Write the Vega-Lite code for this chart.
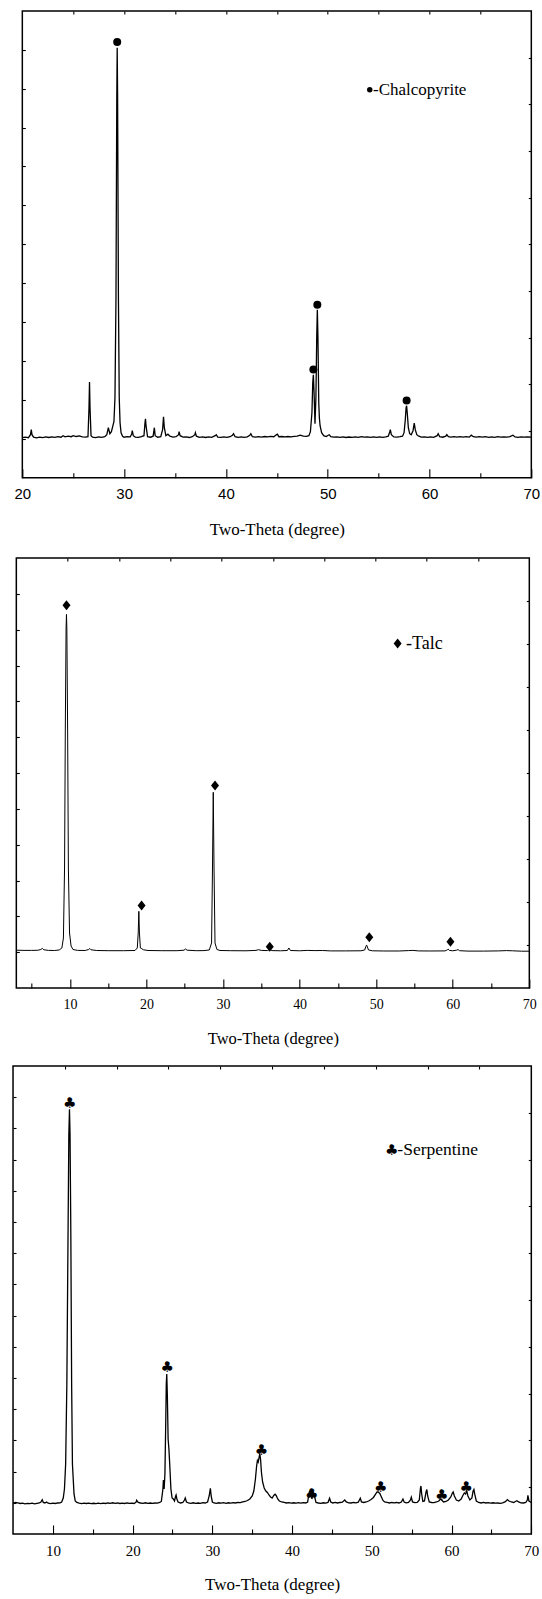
{
  "$schema": "https://vega.github.io/schema/vega-lite/v6.json",
  "background": "white",
  "padding": {"left": 7.7, "top": 8, "right": 0, "bottom": 0},
  "spacing": 14,
  "center": true,
  "align": "each",
  "config": {
    "view": {"stroke": "black", "strokeWidth": 1.5},
    "axis": {"domain": false, "grid": false, "tickColor": "black", "tickWidth": 1.1, "labelColor": "black", "titleColor": "black", "labelFlush": false, "labelOverlap": false, "labelBound": false, "titleFontWeight": "normal"}
  },
  "datasets": {
    "p1_line": [
      {"t":20.0,"i":40},{"t":20.3,"i":40.5},{"t":20.6,"i":40},{"t":20.8,"i":43},{"t":20.88,"i":48},{"t":20.95,"i":43},{"t":21.1,"i":40.5},{"t":21.4,"i":39.8},{"t":21.7,"i":40.6},{"t":22.0,"i":40},{"t":22.3,"i":40.8},{"t":22.6,"i":40.2},{"t":22.9,"i":40.9},{"t":23.2,"i":40.3},{"t":23.5,"i":41},{"t":23.8,"i":40.5},{"t":24.0,"i":42},{"t":24.2,"i":40.8},{"t":24.5,"i":41.5},{"t":24.8,"i":41},{"t":25.0,"i":42},{"t":25.3,"i":41.2},{"t":25.6,"i":41.8},{"t":25.9,"i":40.8},{"t":26.2,"i":40.5},{"t":26.45,"i":41},{"t":26.55,"i":70},{"t":26.6,"i":95.6},{"t":26.65,"i":70},{"t":26.75,"i":42},{"t":26.9,"i":40.5},{"t":27.2,"i":40},{"t":27.5,"i":40.8},{"t":27.8,"i":40.3},{"t":28.1,"i":41},{"t":28.3,"i":43},{"t":28.45,"i":50},{"t":28.6,"i":44},{"t":28.75,"i":46},{"t":28.9,"i":52},{"t":29.0,"i":56},{"t":29.1,"i":80},{"t":29.2,"i":180},{"t":29.28,"i":380},{"t":29.32,"i":430},{"t":29.36,"i":380},{"t":29.44,"i":180},{"t":29.52,"i":80},{"t":29.6,"i":55},{"t":29.7,"i":45},{"t":29.85,"i":41.5},{"t":30.0,"i":40.5},{"t":30.3,"i":41},{"t":30.6,"i":40.8},{"t":30.75,"i":44},{"t":30.8,"i":47},{"t":30.9,"i":42},{"t":31.1,"i":40.6},{"t":31.4,"i":40.3},{"t":31.7,"i":41},{"t":31.95,"i":42},{"t":32.05,"i":55},{"t":32.1,"i":59},{"t":32.15,"i":52},{"t":32.3,"i":41},{"t":32.6,"i":40.5},{"t":32.85,"i":41.5},{"t":32.97,"i":50},{"t":33.05,"i":42},{"t":33.3,"i":40.5},{"t":33.6,"i":41},{"t":33.78,"i":48},{"t":33.87,"i":61},{"t":33.95,"i":50},{"t":34.1,"i":42},{"t":34.3,"i":43.5},{"t":34.5,"i":41.5},{"t":34.8,"i":40.6},{"t":35.1,"i":41},{"t":35.35,"i":43},{"t":35.4,"i":46},{"t":35.5,"i":42},{"t":35.8,"i":40.5},{"t":36.1,"i":40.8},{"t":36.4,"i":40.2},{"t":36.7,"i":41},{"t":36.95,"i":43},{"t":37.0,"i":45},{"t":37.1,"i":41.5},{"t":37.4,"i":40.4},{"t":37.7,"i":40.8},{"t":38.0,"i":40.2},{"t":38.3,"i":40.9},{"t":38.6,"i":40.4},{"t":38.95,"i":42},{"t":39.05,"i":43},{"t":39.2,"i":40.6},{"t":39.5,"i":40.3},{"t":39.8,"i":40.8},{"t":40.1,"i":40.3},{"t":40.4,"i":41},{"t":40.65,"i":42.5},{"t":40.75,"i":44},{"t":40.9,"i":41},{"t":41.2,"i":40.4},{"t":41.5,"i":40.8},{"t":41.8,"i":40.3},{"t":42.1,"i":40.9},{"t":42.35,"i":42.5},{"t":42.45,"i":44},{"t":42.6,"i":41},{"t":42.9,"i":40.5},{"t":43.2,"i":41},{"t":43.5,"i":40.6},{"t":43.8,"i":41.2},{"t":44.1,"i":40.8},{"t":44.4,"i":41.3},{"t":44.7,"i":41},{"t":44.95,"i":43},{"t":45.05,"i":43.5},{"t":45.2,"i":41},{"t":45.5,"i":41.2},{"t":45.8,"i":40.8},{"t":46.1,"i":41.2},{"t":46.4,"i":40.9},{"t":46.7,"i":41.3},{"t":47.0,"i":41.5},{"t":47.3,"i":42.5},{"t":47.6,"i":41.5},{"t":47.9,"i":41.3},{"t":48.15,"i":42},{"t":48.3,"i":46},{"t":48.45,"i":65},{"t":48.53,"i":95},{"t":48.59,"i":103},{"t":48.66,"i":85},{"t":48.75,"i":54},{"t":48.84,"i":80},{"t":48.92,"i":140},{"t":48.98,"i":168},{"t":49.04,"i":140},{"t":49.12,"i":75},{"t":49.18,"i":60},{"t":49.25,"i":52},{"t":49.4,"i":45},{"t":49.6,"i":42},{"t":49.85,"i":41.2},{"t":50.05,"i":42.5},{"t":50.15,"i":43},{"t":50.3,"i":41},{"t":50.6,"i":40.5},{"t":50.9,"i":40.9},{"t":51.2,"i":40.3},{"t":51.5,"i":40.8},{"t":51.8,"i":40.2},{"t":52.1,"i":40.7},{"t":52.4,"i":40.3},{"t":52.7,"i":40.8},{"t":53.0,"i":40.4},{"t":53.3,"i":41},{"t":53.6,"i":40.5},{"t":53.9,"i":40.9},{"t":54.2,"i":40.4},{"t":54.5,"i":40.8},{"t":54.8,"i":40.3},{"t":55.1,"i":40.8},{"t":55.4,"i":40.4},{"t":55.7,"i":40.9},{"t":55.95,"i":41.5},{"t":56.1,"i":46},{"t":56.15,"i":48},{"t":56.25,"i":43},{"t":56.5,"i":40.8},{"t":56.8,"i":40.5},{"t":57.1,"i":41},{"t":57.35,"i":41.5},{"t":57.5,"i":45},{"t":57.62,"i":58},{"t":57.7,"i":70},{"t":57.75,"i":72},{"t":57.82,"i":64},{"t":57.92,"i":50},{"t":58.05,"i":44},{"t":58.2,"i":43},{"t":58.38,"i":47},{"t":58.5,"i":54.6},{"t":58.6,"i":48},{"t":58.75,"i":43},{"t":58.95,"i":41.5},{"t":59.2,"i":40.6},{"t":59.5,"i":40.9},{"t":59.8,"i":40.3},{"t":60.1,"i":40.8},{"t":60.4,"i":40.4},{"t":60.75,"i":42},{"t":60.85,"i":44},{"t":61.0,"i":41},{"t":61.3,"i":40.5},{"t":61.6,"i":41.5},{"t":61.7,"i":43},{"t":61.85,"i":41},{"t":62.1,"i":40.6},{"t":62.4,"i":41},{"t":62.7,"i":40.5},{"t":63.0,"i":41},{"t":63.3,"i":40.5},{"t":63.6,"i":41.1},{"t":63.9,"i":40.6},{"t":64.1,"i":42.5},{"t":64.3,"i":41},{"t":64.6,"i":40.6},{"t":64.9,"i":41.1},{"t":65.2,"i":40.5},{"t":65.5,"i":41},{"t":65.8,"i":40.4},{"t":66.1,"i":40.9},{"t":66.4,"i":40.4},{"t":66.7,"i":41},{"t":67.0,"i":40.5},{"t":67.3,"i":40.9},{"t":67.6,"i":40.5},{"t":67.9,"i":41},{"t":68.2,"i":42.5},{"t":68.4,"i":40.8},{"t":68.7,"i":40.4},{"t":69.0,"i":40.9},{"t":69.3,"i":40.5},{"t":69.6,"i":40.9},{"t":70.0,"i":40.5}
    ],
    "p1_marks": [
      {"t":29.32,"i":435.7},{"t":48.59,"i":108.3},{"t":48.98,"i":173},{"t":57.75,"i":77.3}
    ],
    "p1_bullet": [
      {"t":54.13,"i":388}
    ],
    "p1_legend": [
      {"t":54.45,"i":388,"label":"-Chalcopyrite"}
    ],
    "p2_line": [
      {"t":3.0,"i":37.8},{"t":4.0,"i":37.6},{"t":5.0,"i":37.6},{"t":5.8,"i":37.7},{"t":6.2,"i":38.5},{"t":6.4,"i":39.6},{"t":6.6,"i":38.2},{"t":7.2,"i":37.6},{"t":8.0,"i":37.5},{"t":8.6,"i":38},{"t":8.95,"i":40},{"t":9.15,"i":50},{"t":9.3,"i":120},{"t":9.4,"i":260},{"t":9.5,"i":360},{"t":9.55,"i":373.6},{"t":9.6,"i":360},{"t":9.7,"i":260},{"t":9.8,"i":120},{"t":9.95,"i":55},{"t":10.15,"i":42},{"t":10.4,"i":38.5},{"t":11.0,"i":37.6},{"t":12.0,"i":37.5},{"t":12.45,"i":38.5},{"t":12.6,"i":39.5},{"t":12.75,"i":38.2},{"t":13.5,"i":37.5},{"t":15.0,"i":37.3},{"t":17.0,"i":37.3},{"t":18.5,"i":37.5},{"t":18.8,"i":40},{"t":18.92,"i":55},{"t":19.0,"i":76.7},{"t":19.08,"i":55},{"t":19.2,"i":40},{"t":19.4,"i":39.2},{"t":19.6,"i":38.2},{"t":20.2,"i":37.5},{"t":22.0,"i":37.3},{"t":24.0,"i":37.3},{"t":24.9,"i":37.8},{"t":25.1,"i":39},{"t":25.3,"i":37.8},{"t":26.5,"i":37.3},{"t":27.5,"i":37.4},{"t":28.2,"i":38},{"t":28.5,"i":45},{"t":28.62,"i":120},{"t":28.72,"i":195.7},{"t":28.82,"i":120},{"t":28.95,"i":45},{"t":29.2,"i":38.5},{"t":29.6,"i":37.5},{"t":31.0,"i":37.3},{"t":33.0,"i":37.2},{"t":34.3,"i":37.6},{"t":34.6,"i":38.3},{"t":35.0,"i":37.6},{"t":35.8,"i":37.4},{"t":36.1,"i":38.5},{"t":36.4,"i":37.4},{"t":37.5,"i":37.2},{"t":38.4,"i":37.5},{"t":38.6,"i":40},{"t":38.8,"i":37.5},{"t":40.0,"i":37.2},{"t":41.0,"i":37.6},{"t":42.0,"i":37.4},{"t":43.0,"i":37.5},{"t":44.0,"i":37.1},{"t":46.0,"i":37.1},{"t":48.0,"i":37.2},{"t":48.5,"i":38},{"t":48.65,"i":41.5},{"t":48.75,"i":42.9},{"t":48.85,"i":41},{"t":49.0,"i":38},{"t":49.5,"i":37.2},{"t":51.0,"i":37.0},{"t":53.0,"i":37.0},{"t":54.2,"i":37.4},{"t":54.8,"i":37.6},{"t":55.5,"i":37.1},{"t":57.0,"i":37.0},{"t":59.0,"i":37.1},{"t":59.3,"i":38.2},{"t":59.4,"i":38.9},{"t":59.55,"i":37.6},{"t":60.0,"i":37.2},{"t":60.5,"i":37.8},{"t":60.7,"i":38.4},{"t":60.9,"i":37.3},{"t":62.0,"i":36.9},{"t":64.0,"i":36.9},{"t":66.0,"i":37.1},{"t":67.0,"i":37.4},{"t":67.8,"i":37.2},{"t":69.0,"i":36.8},{"t":70.0,"i":36.8}
    ],
    "p2_marks": [
      {"t":9.55,"i":382.7},{"t":19.36,"i":82.5},{"t":28.95,"i":202.5},{"t":36.1,"i":41.2},{"t":49.1,"i":50.7},{"t":59.7,"i":46.3},{"t":52.8,"i":344.4}
    ],
    "p2_legend": [
      {"t":53.9,"i":344.4,"label":"-Talc"}
    ],
    "p3_line": [
      {"t":5.0,"i":30.8},{"t":5.3,"i":31.5},{"t":5.6,"i":31},{"t":5.9,"i":30.5},{"t":6.2,"i":30.8},{"t":6.5,"i":30.2},{"t":6.8,"i":30.6},{"t":7.1,"i":30.3},{"t":7.4,"i":30.8},{"t":7.7,"i":30.2},{"t":8.0,"i":30.6},{"t":8.3,"i":31},{"t":8.5,"i":32},{"t":8.66,"i":34.3},{"t":8.8,"i":31.5},{"t":9.0,"i":31},{"t":9.2,"i":32},{"t":9.4,"i":30.8},{"t":9.7,"i":30.4},{"t":10.0,"i":30.8},{"t":10.3,"i":30.5},{"t":10.6,"i":31},{"t":10.9,"i":31.2},{"t":11.1,"i":32},{"t":11.3,"i":36},{"t":11.45,"i":45},{"t":11.6,"i":70},{"t":11.75,"i":150},{"t":11.9,"i":300},{"t":12.0,"i":400},{"t":12.08,"i":424.8},{"t":12.15,"i":400},{"t":12.25,"i":300},{"t":12.35,"i":150},{"t":12.45,"i":70},{"t":12.55,"i":55},{"t":12.65,"i":40},{"t":12.8,"i":33},{"t":13.0,"i":31.5},{"t":13.3,"i":30.8},{"t":13.6,"i":30.4},{"t":13.9,"i":30.9},{"t":14.2,"i":30.5},{"t":14.5,"i":30.8},{"t":14.8,"i":30.3},{"t":15.1,"i":30.7},{"t":15.4,"i":30.3},{"t":15.7,"i":30.8},{"t":16.0,"i":30.4},{"t":16.3,"i":30.9},{"t":16.6,"i":30.5},{"t":16.9,"i":31},{"t":17.2,"i":30.6},{"t":17.5,"i":31.2},{"t":17.8,"i":30.6},{"t":18.1,"i":31},{"t":18.4,"i":30.5},{"t":18.7,"i":30.9},{"t":19.0,"i":30.5},{"t":19.3,"i":31},{"t":19.6,"i":30.6},{"t":19.9,"i":30.8},{"t":20.2,"i":30.5},{"t":20.45,"i":32},{"t":20.5,"i":33.7},{"t":20.7,"i":31.5},{"t":21.0,"i":31},{"t":21.3,"i":30.7},{"t":21.6,"i":31.2},{"t":21.9,"i":30.6},{"t":22.2,"i":31},{"t":22.5,"i":30.6},{"t":22.8,"i":31},{"t":23.1,"i":30.8},{"t":23.4,"i":31.5},{"t":23.6,"i":32.5},{"t":23.8,"i":45},{"t":23.86,"i":54},{"t":23.95,"i":45},{"t":24.05,"i":60},{"t":24.15,"i":110},{"t":24.22,"i":150},{"t":24.28,"i":160},{"t":24.35,"i":140},{"t":24.45,"i":95},{"t":24.55,"i":85},{"t":24.65,"i":70},{"t":24.8,"i":45},{"t":24.95,"i":36},{"t":25.1,"i":35},{"t":25.25,"i":33},{"t":25.4,"i":38},{"t":25.45,"i":39},{"t":25.55,"i":35},{"t":25.7,"i":32},{"t":26.0,"i":31},{"t":26.3,"i":31.5},{"t":26.5,"i":34},{"t":26.6,"i":36},{"t":26.75,"i":32},{"t":27.0,"i":31},{"t":27.3,"i":30.6},{"t":27.6,"i":31.2},{"t":27.9,"i":30.7},{"t":28.2,"i":31},{"t":28.5,"i":30.6},{"t":28.8,"i":31.3},{"t":29.1,"i":31},{"t":29.4,"i":32},{"t":29.6,"i":38},{"t":29.75,"i":45.7},{"t":29.85,"i":38},{"t":30.0,"i":32},{"t":30.2,"i":31},{"t":30.5,"i":30.7},{"t":30.8,"i":31.2},{"t":31.1,"i":30.8},{"t":31.4,"i":31.3},{"t":31.7,"i":30.7},{"t":32.0,"i":31.2},{"t":32.3,"i":30.8},{"t":32.6,"i":31.4},{"t":32.9,"i":31},{"t":33.2,"i":31.5},{"t":33.5,"i":31.3},{"t":33.8,"i":32},{"t":34.1,"i":32.5},{"t":34.4,"i":33.5},{"t":34.7,"i":35},{"t":35.0,"i":38},{"t":35.2,"i":43},{"t":35.4,"i":55},{"t":35.55,"i":68},{"t":35.65,"i":73.5},{"t":35.75,"i":72},{"t":35.85,"i":76},{"t":35.95,"i":80.5},{"t":36.05,"i":74},{"t":36.15,"i":62},{"t":36.3,"i":52},{"t":36.5,"i":46},{"t":36.7,"i":43},{"t":36.9,"i":41.5},{"t":37.1,"i":39},{"t":37.3,"i":37},{"t":37.5,"i":36},{"t":37.7,"i":38.5},{"t":37.86,"i":39.7},{"t":38.0,"i":38.5},{"t":38.2,"i":35},{"t":38.4,"i":33},{"t":38.7,"i":32},{"t":39.0,"i":31.5},{"t":39.3,"i":31},{"t":39.6,"i":31.3},{"t":39.9,"i":30.8},{"t":40.2,"i":31.2},{"t":40.5,"i":30.8},{"t":40.8,"i":31.3},{"t":41.1,"i":30.9},{"t":41.4,"i":31.4},{"t":41.7,"i":31},{"t":41.95,"i":32},{"t":42.1,"i":40},{"t":42.2,"i":43},{"t":42.35,"i":38},{"t":42.5,"i":36},{"t":42.7,"i":41},{"t":42.8,"i":38},{"t":43.0,"i":31.5},{"t":43.3,"i":31},{"t":43.6,"i":30.7},{"t":43.9,"i":31.2},{"t":44.2,"i":30.8},{"t":44.5,"i":31.5},{"t":44.7,"i":35.8},{"t":44.85,"i":32},{"t":45.1,"i":31},{"t":45.4,"i":31.5},{"t":45.7,"i":31},{"t":46.0,"i":31.5},{"t":46.3,"i":31.8},{"t":46.6,"i":34},{"t":46.8,"i":32},{"t":47.1,"i":31.2},{"t":47.4,"i":31},{"t":47.7,"i":31.5},{"t":48.0,"i":31.2},{"t":48.3,"i":31.8},{"t":48.55,"i":35.8},{"t":48.7,"i":32},{"t":49.0,"i":31.5},{"t":49.3,"i":32},{"t":49.6,"i":33},{"t":49.9,"i":34.5},{"t":50.2,"i":36.5},{"t":50.45,"i":39.5},{"t":50.65,"i":42},{"t":50.8,"i":42},{"t":51.0,"i":40.5},{"t":51.2,"i":37},{"t":51.4,"i":33.5},{"t":51.6,"i":32},{"t":51.9,"i":31.5},{"t":52.2,"i":31},{"t":52.5,"i":31.5},{"t":52.8,"i":31.2},{"t":53.1,"i":31.5},{"t":53.4,"i":31},{"t":53.7,"i":32},{"t":53.9,"i":35},{"t":54.05,"i":32},{"t":54.3,"i":31.2},{"t":54.6,"i":31.5},{"t":54.85,"i":34},{"t":54.95,"i":36.8},{"t":55.1,"i":32},{"t":55.4,"i":31.3},{"t":55.7,"i":31.5},{"t":55.95,"i":34},{"t":56.1,"i":46},{"t":56.16,"i":48},{"t":56.25,"i":40},{"t":56.4,"i":32.5},{"t":56.6,"i":33},{"t":56.8,"i":42},{"t":56.9,"i":44.5},{"t":57.0,"i":38},{"t":57.2,"i":32},{"t":57.5,"i":31.5},{"t":57.8,"i":31.3},{"t":58.1,"i":32},{"t":58.4,"i":33},{"t":58.6,"i":35},{"t":58.75,"i":34},{"t":59.0,"i":32},{"t":59.3,"i":32.5},{"t":59.6,"i":34},{"t":59.9,"i":37},{"t":60.1,"i":41},{"t":60.2,"i":42},{"t":60.35,"i":38},{"t":60.6,"i":34},{"t":60.9,"i":33},{"t":61.2,"i":35},{"t":61.45,"i":39},{"t":61.6,"i":41},{"t":61.75,"i":40},{"t":61.9,"i":43},{"t":62.05,"i":38},{"t":62.3,"i":34},{"t":62.55,"i":36},{"t":62.7,"i":43},{"t":62.8,"i":44.5},{"t":62.9,"i":40},{"t":63.1,"i":33},{"t":63.4,"i":31.5},{"t":63.7,"i":31},{"t":64.0,"i":31.5},{"t":64.3,"i":31},{"t":64.6,"i":31.3},{"t":64.9,"i":30.8},{"t":65.2,"i":31.2},{"t":65.5,"i":30.8},{"t":65.8,"i":31},{"t":66.1,"i":30.7},{"t":66.4,"i":31.2},{"t":66.7,"i":32},{"t":66.9,"i":33.5},{"t":67.0,"i":34.4},{"t":67.2,"i":33},{"t":67.5,"i":32},{"t":67.8,"i":31.5},{"t":68.0,"i":32.5},{"t":68.2,"i":33.3},{"t":68.4,"i":32},{"t":68.7,"i":31.2},{"t":69.0,"i":31},{"t":69.3,"i":31.5},{"t":69.5,"i":34},{"t":69.57,"i":38.6},{"t":69.7,"i":33},{"t":70.0,"i":31.5}
    ],
    "p3_marks": [
      {"t":12.1,"i":431,"g":"♣"},{"t":24.35,"i":167,"g":"♣"},{"t":36.15,"i":84,"g":"♣"},{"t":42.45,"i":40.3,"g":"♣"},{"t":51.1,"i":47.3,"g":"♣"},{"t":58.75,"i":38.6,"g":"♣"},{"t":61.85,"i":47.3,"g":"♣"},{"t":52.5,"i":384.2,"g":"♣"}
    ],
    "p3_legend": [
      {"t":53.2,"i":384.2,"label":"-Serpentine"}
    ]
  },
  "vconcat": [
    {
      "width": 509, "height": 466.7,
      "resolve": {"axis": {"x": "independent", "y": "independent"}},
      "layer": [
        {
          "data": {"name": "p1_line"},
          "mark": {"type": "line", "color": "black", "strokeWidth": 1.3},
          "encoding": {
            "x": {"field": "t", "type": "quantitative", "scale": {"domain": [20, 70], "nice": false, "zero": false},
                  "axis": {"orient": "bottom", "values": [20,30,40,50,60,70], "tickSize": -9, "labelFont": "Liberation Sans", "labelFontSize": 15, "labelPadding": 18, "title": "Two-Theta (degree)", "titleFont": "Liberation Serif", "titleFontSize": 17, "titlePadding": 20}},
            "y": {"field": "i", "type": "quantitative", "scale": {"domain": [0, 466.7], "nice": false, "zero": false},
                  "axis": {"orient": "left", "values": [38.9,77.8,116.7,155.6,194.5,233.4,272.3,311.2,350.1,389,427.9], "tickSize": -3, "labels": false, "title": null, "minExtent": 4}}
          }
        },
        {
          "data": {"name": "p1_marks"},
          "mark": {"type": "point", "shape": "circle", "filled": true, "color": "black", "size": 64, "opacity": 1},
          "encoding": {
            "x": {"field": "t", "type": "quantitative", "scale": {"domain": [20, 70], "nice": false, "zero": false},
                  "axis": {"orient": "bottom", "values": [25,35,45,55,65], "tickSize": -5, "labels": false, "title": null}},
            "y": {"field": "i", "type": "quantitative", "scale": {"domain": [0, 466.7], "nice": false, "zero": false},
                  "axis": {"orient": "right", "values": [46.7,93.3,140,186.7,233.3,280,326.7,373.3,420], "tickSize": -3, "labels": false, "title": null, "minExtent": 9}}
          }
        },
        {
          "data": {"name": "p1_legend"},
          "mark": {"type": "text", "align": "left", "baseline": "middle", "font": "Liberation Serif", "fontSize": 17, "color": "black"},
          "encoding": {
            "x": {"field": "t", "type": "quantitative", "scale": {"domain": [20, 70], "nice": false, "zero": false},
                  "axis": {"orient": "top", "values": [25,30,35,40,45,50,55,60,65], "tickSize": -3, "labels": false, "title": null, "minExtent": 2}},
            "y": {"field": "i", "type": "quantitative", "scale": {"domain": [0, 466.7], "nice": false, "zero": false}, "axis": null},
            "text": {"field": "label"}
          }
        },
        {
          "data": {"name": "p1_bullet"},
          "mark": {"type": "point", "shape": "circle", "filled": true, "color": "black", "size": 30, "opacity": 1},
          "encoding": {
            "x": {"field": "t", "type": "quantitative", "scale": {"domain": [20, 70], "nice": false, "zero": false}, "axis": null},
            "y": {"field": "i", "type": "quantitative", "scale": {"domain": [0, 466.7], "nice": false, "zero": false}, "axis": null}
          }
        }
      ]
    },
    {
      "width": 513, "height": 430,
      "resolve": {"axis": {"x": "independent", "y": "independent"}},
      "layer": [
        {
          "data": {"name": "p2_line"},
          "mark": {"type": "line", "color": "black", "strokeWidth": 1.0},
          "encoding": {
            "x": {"field": "t", "type": "quantitative", "scale": {"domain": [3, 70], "nice": false, "zero": false},
                  "axis": {"orient": "bottom", "values": [10,20,30,40,50,60,70], "tickSize": -9, "labelFont": "Liberation Serif", "labelFontSize": 14, "labelPadding": 19, "title": "Two-Theta (degree)", "titleFont": "Liberation Serif", "titleFontSize": 16.5, "titlePadding": 19}},
            "y": {"field": "i", "type": "quantitative", "scale": {"domain": [0, 430], "nice": false, "zero": false},
                  "axis": {"orient": "left", "values": [35.8,71.7,107.5,143.3,179.2,215,250.8,286.7,322.5,358.3,394.2], "tickSize": -3, "labels": false, "title": null, "minExtent": 4}}
          }
        },
        {
          "data": {"name": "p2_marks"},
          "mark": {"type": "point", "shape": "M0,-1L0.8,0L0,1L-0.8,0Z", "filled": true, "color": "black", "size": 100, "opacity": 1},
          "encoding": {
            "x": {"field": "t", "type": "quantitative", "scale": {"domain": [3, 70], "nice": false, "zero": false},
                  "axis": {"orient": "bottom", "values": [5,15,25,35,45,55,65], "tickSize": -5, "labels": false, "title": null}},
            "y": {"field": "i", "type": "quantitative", "scale": {"domain": [0, 430], "nice": false, "zero": false},
                  "axis": {"orient": "right", "values": [43,86,129,172,215,258,301,344,387], "tickSize": -3, "labels": false, "title": null, "minExtent": 17}}
          }
        },
        {
          "data": {"name": "p2_legend"},
          "mark": {"type": "text", "align": "left", "baseline": "middle", "font": "Liberation Serif", "fontSize": 18, "color": "black"},
          "encoding": {
            "x": {"field": "t", "type": "quantitative", "scale": {"domain": [3, 70], "nice": false, "zero": false},
                  "axis": {"orient": "top", "values": [9.7,16.4,23.1,29.8,36.5,43.2,49.9,56.6,63.3], "tickSize": -3, "labels": false, "title": null, "minExtent": 4}},
            "y": {"field": "i", "type": "quantitative", "scale": {"domain": [0, 430], "nice": false, "zero": false}, "axis": null},
            "text": {"field": "label"}
          }
        }
      ]
    },
    {
      "width": 518.3, "height": 468,
      "resolve": {"axis": {"x": "independent", "y": "independent"}},
      "layer": [
        {
          "data": {"name": "p3_line"},
          "mark": {"type": "line", "color": "black", "strokeWidth": 1.3},
          "encoding": {
            "x": {"field": "t", "type": "quantitative", "scale": {"domain": [5, 70], "nice": false, "zero": false},
                  "axis": {"orient": "bottom", "values": [10,20,30,40,50,60,70], "tickSize": -9, "labelFont": "Liberation Serif", "labelFontSize": 15, "labelPadding": 19, "title": "Two-Theta (degree)", "titleFont": "Liberation Serif", "titleFontSize": 17, "titlePadding": 18}},
            "y": {"field": "i", "type": "quantitative", "scale": {"domain": [0, 468], "nice": false, "zero": false},
                  "axis": {"orient": "left", "values": [31.2,62.4,93.6,124.8,156,187.2,218.4,249.6,280.8,312,343.2,374.4,405.6,436.8], "tickSize": -3, "labels": false, "title": null, "minExtent": 4}}
          }
        },
        {
          "data": {"name": "p3_marks"},
          "mark": {"type": "text", "align": "center", "baseline": "middle", "font": "DejaVu Sans", "fontSize": 15, "color": "black"},
          "encoding": {
            "x": {"field": "t", "type": "quantitative", "scale": {"domain": [5, 70], "nice": false, "zero": false},
                  "axis": {"orient": "bottom", "values": [15,25,35,45,55,65], "tickSize": -5, "labels": false, "title": null}},
            "y": {"field": "i", "type": "quantitative", "scale": {"domain": [0, 468], "nice": false, "zero": false},
                  "axis": {"orient": "right", "values": [46.8,93.6,140.4,187.2,234,280.8,327.6,374.4,421.2], "tickSize": -3, "labels": false, "title": null, "minExtent": 18.3}},
            "text": {"field": "g"}
          }
        },
        {
          "data": {"name": "p3_legend"},
          "mark": {"type": "text", "align": "left", "baseline": "middle", "font": "Liberation Serif", "fontSize": 17.5, "color": "black"},
          "encoding": {
            "x": {"field": "t", "type": "quantitative", "scale": {"domain": [5, 70], "nice": false, "zero": false},
                  "axis": {"orient": "top", "values": [11.5,18,24.5,31,37.5,44,50.5,57,63.5], "tickSize": -3, "labels": false, "title": null, "minExtent": 2}},
            "y": {"field": "i", "type": "quantitative", "scale": {"domain": [0, 468], "nice": false, "zero": false}, "axis": null},
            "text": {"field": "label"}
          }
        }
      ]
    }
  ]
}
